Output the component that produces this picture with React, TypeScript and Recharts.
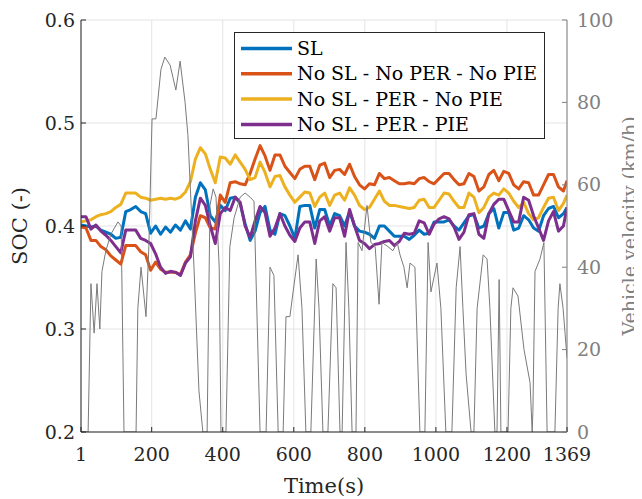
import React from 'react';
import { LineChart, Line, XAxis, YAxis, CartesianGrid, Label } from 'recharts';

// ---- data ----
const time = [
  1, 15, 29, 43, 57, 71, 85, 99, 113, 127, 141, 155, 169, 183, 197, 211, 225, 239, 253, 267,
  281, 295, 309, 323, 337, 351, 365, 379, 393, 407, 421, 435, 449, 463, 477, 491, 505, 519, 533, 547,
  561, 575, 589, 603, 617, 631, 645, 659, 673, 687, 701, 715, 729, 743, 757, 771, 785, 799, 813, 827,
  841, 855, 869, 883, 897, 911, 925, 939, 953, 967, 981, 995, 1009, 1023, 1037, 1051, 1065, 1079, 1093, 1107,
  1121, 1135, 1149, 1163, 1177, 1191, 1205, 1219, 1233, 1247, 1261, 1275, 1289, 1303, 1317, 1331, 1345, 1359, 1369,
];

const socSL = [
  0.401, 0.400, 0.399, 0.400, 0.396, 0.394, 0.392, 0.388, 0.389, 0.414, 0.416, 0.419, 0.414, 0.412, 0.393, 0.400, 0.392, 0.399, 0.394, 0.401,
  0.396, 0.405, 0.397, 0.428, 0.442, 0.435, 0.410, 0.404, 0.420, 0.415, 0.427, 0.428, 0.422, 0.402, 0.386, 0.395, 0.413, 0.419, 0.396, 0.392,
  0.412, 0.410, 0.400, 0.388, 0.419, 0.420, 0.420, 0.398, 0.416, 0.416, 0.400, 0.412, 0.410, 0.400, 0.414, 0.400, 0.395, 0.394, 0.392, 0.388,
  0.400, 0.400, 0.395, 0.390, 0.390, 0.390, 0.387, 0.391, 0.396, 0.392, 0.393, 0.404, 0.404, 0.404, 0.406, 0.400, 0.396, 0.403, 0.410, 0.411,
  0.398, 0.400, 0.412, 0.417, 0.398, 0.413, 0.413, 0.396, 0.398, 0.410, 0.406, 0.398, 0.395, 0.410, 0.417, 0.419, 0.408, 0.412, 0.418,
];

const socNoSLNoPERNoPIE = [
  0.399, 0.398, 0.386, 0.386, 0.380, 0.377, 0.371, 0.367, 0.363, 0.381, 0.381, 0.381, 0.375, 0.372, 0.357, 0.365, 0.358, 0.355, 0.355, 0.355,
  0.353, 0.365, 0.372, 0.393, 0.410, 0.408, 0.398, 0.397, 0.430, 0.423, 0.442, 0.443, 0.441, 0.440, 0.451, 0.465, 0.478, 0.468, 0.454, 0.469,
  0.469, 0.458, 0.452, 0.446, 0.455, 0.458, 0.458, 0.445, 0.459, 0.461, 0.447, 0.454, 0.455, 0.450, 0.460, 0.448, 0.440, 0.436, 0.441, 0.440,
  0.451, 0.446, 0.447, 0.444, 0.441, 0.441, 0.442, 0.441, 0.446, 0.447, 0.443, 0.441, 0.446, 0.451, 0.451, 0.445, 0.440, 0.441, 0.451, 0.448,
  0.434, 0.438, 0.450, 0.454, 0.444, 0.453, 0.451, 0.440, 0.436, 0.443, 0.442, 0.430, 0.430, 0.440, 0.450, 0.450, 0.438, 0.434, 0.444,
];

const socNoSLPERNoPIE = [
  0.404, 0.405, 0.406, 0.409, 0.411, 0.412, 0.414, 0.418, 0.421, 0.432, 0.432, 0.432, 0.428, 0.427, 0.425, 0.426, 0.427, 0.426, 0.427, 0.426,
  0.428, 0.433, 0.443, 0.465, 0.476, 0.470, 0.455, 0.442, 0.467, 0.466, 0.460, 0.469, 0.462, 0.455, 0.445, 0.447, 0.462, 0.452, 0.438, 0.448,
  0.449, 0.438, 0.430, 0.423, 0.428, 0.433, 0.432, 0.419, 0.428, 0.432, 0.420, 0.430, 0.432, 0.425, 0.437, 0.430, 0.420, 0.416, 0.418, 0.426,
  0.434, 0.424, 0.420, 0.420, 0.419, 0.418, 0.417, 0.418, 0.425, 0.426, 0.418, 0.418, 0.425, 0.432, 0.431, 0.424, 0.418, 0.418, 0.432, 0.428,
  0.413, 0.418, 0.428, 0.432, 0.430, 0.436, 0.432, 0.424, 0.418, 0.423, 0.412, 0.406, 0.408, 0.418, 0.427, 0.428, 0.415, 0.422, 0.430,
];

const socNoSLPERPIE = [
  0.409, 0.409, 0.397, 0.401, 0.395, 0.391, 0.386, 0.380, 0.374, 0.396, 0.396, 0.396, 0.388, 0.386, 0.383, 0.373, 0.360, 0.354, 0.356, 0.355,
  0.352, 0.364, 0.370, 0.405, 0.427, 0.420, 0.400, 0.383, 0.412, 0.418, 0.415, 0.428, 0.423, 0.400, 0.389, 0.405, 0.419, 0.413, 0.390, 0.398,
  0.412, 0.400, 0.391, 0.385, 0.398, 0.404, 0.404, 0.383, 0.405, 0.409, 0.395, 0.408, 0.408, 0.390, 0.416, 0.400, 0.386, 0.383, 0.378, 0.382,
  0.383, 0.385, 0.386, 0.381, 0.385, 0.393, 0.392, 0.393, 0.405, 0.403, 0.392, 0.402, 0.407, 0.409, 0.407, 0.399, 0.387, 0.394, 0.411, 0.412,
  0.392, 0.388, 0.412, 0.421, 0.426, 0.426, 0.415, 0.404, 0.404, 0.428, 0.425, 0.410, 0.398, 0.386, 0.405, 0.414, 0.395, 0.400, 0.418,
];

const velTime = [
  1, 21, 29, 38, 46, 54, 60, 71, 85, 105, 114, 122, 156, 161, 170, 184, 192, 201, 212, 226,
  237, 252, 260, 268, 280, 294, 302, 319, 333, 344, 356, 364, 373, 381, 390, 395, 409, 420, 432, 449,
  463, 477, 488, 505, 522, 533, 544, 556, 570, 578, 589, 598, 612, 623, 634, 648, 663, 671, 682, 696,
  710, 719, 730, 736, 747, 755, 764, 775, 781, 792, 806, 817, 829, 840, 848, 865, 879, 891, 899, 910,
  919, 927, 941, 955, 969, 978, 986, 1003, 1014, 1028, 1045, 1057, 1068, 1076, 1085, 1099, 1107, 1116, 1133, 1144,
  1152, 1166, 1172, 1178, 1183, 1203, 1211, 1217, 1231, 1248, 1265, 1271, 1273, 1279, 1293, 1304, 1313, 1335, 1344, 1349,
  1358, 1369,
];

const velocity = [
  0, 0, 36, 24, 36, 25, 39, 44, 48, 51, 50, 0, 0, 30, 40, 28, 45, 76, 76, 88,
  91, 89, 86, 83, 90, 80, 72, 40, 10, 0, 0, 55, 59, 57, 40, 0, 0, 45, 52, 57,
  58, 57, 56, 0, 0, 40, 38, 0, 0, 28, 28, 34, 43, 30, 0, 0, 42, 30, 0, 0,
  36, 35, 0, 0, 46, 30, 0, 0, 46, 44, 55, 46, 45, 31, 46, 45, 44, 46, 43, 40,
  35, 41, 40, 0, 0, 46, 34, 41, 30, 0, 0, 35, 45, 30, 14, 0, 0, 30, 43, 42,
  30, 0, 0, 37, 0, 0, 30, 35, 33, 20, 12, 0, 5, 39, 42, 46, 0, 0, 30, 36,
  30, 18,
];

const xTicks = [1, 200, 400, 600, 800, 1000, 1200, 1369];
const socTicks = [0.2, 0.3, 0.4, 0.5, 0.6];
const velTicks = [0, 20, 40, 60, 80, 100];

const seriesKeys = ['sl', 'noSlNoPerNoPie', 'noSlPerNoPie', 'noSlPerPie'];
const seriesNames = ['SL', 'No SL - No PER - No PIE', 'No SL - PER - No PIE', 'No SL - PER - PIE'];
const seriesColors = ['#0072BD', '#D95319', '#EDB120', '#7E2F8E'];
const seriesValues = [socSL, socNoSLNoPERNoPIE, socNoSLPERNoPIE, socNoSLPERPIE];

const socData = time.map((t, i) => {
  const row: Record<string, number> = { t };
  seriesKeys.forEach((k, j) => {
    row[k] = seriesValues[j][i];
  });
  return row;
});
const velData = velTime.map((t, i) => ({ t, v: velocity[i] }));

// ---- styles ----
const FONT = 'DejaVu Serif';
const AXIS = '#262626';
const GREY = '#808080';
const TICK_FS = 19;
const LEG_FS = 19;
const LABEL_FS = 21;
const VLABEL_FS = 19;
const TL = 5;

const BottomTick = (props: any) => {
  const { x, y, payload } = props;
  return (
    <g>
      <line x1={x} y1={y} x2={x} y2={y - TL} stroke={AXIS} strokeWidth={1} />
      <text x={x} y={y + 29} textAnchor="middle" fontFamily={FONT} fontSize={TICK_FS} fill={AXIS}>
        {payload.value}
      </text>
    </g>
  );
};

const TopTick = (props: any) => {
  const { x, y } = props;
  return <line x1={x} y1={y} x2={x} y2={y + TL} stroke={AXIS} strokeWidth={1} />;
};

const LeftTick = (props: any) => {
  const { x, y, payload } = props;
  return (
    <g>
      <line x1={x} y1={y} x2={x + TL} y2={y} stroke={AXIS} strokeWidth={1} />
      <text x={x - 6} y={y} dy="0.35em" textAnchor="end" fontFamily={FONT} fontSize={TICK_FS} fill={AXIS}>
        {Number(payload.value).toFixed(1)}
      </text>
    </g>
  );
};

const RightTick = (props: any) => {
  const { x, y, payload } = props;
  return (
    <g>
      <line x1={x} y1={y} x2={x - TL} y2={y} stroke={GREY} strokeWidth={1} />
      <text x={x + 10} y={y} dy="0.35em" textAnchor="start" fontFamily={FONT} fontSize={TICK_FS} fill={GREY}>
        {payload.value}
      </text>
    </g>
  );
};

const LegendBox = () => (
  <div
    style={{
      position: 'absolute',
      left: 226,
      top: 24,
      width: 309,
      height: 105,
      border: `1px solid ${AXIS}`,
      background: '#fff',
    }}
  >
    <svg width={309} height={105}>
      {seriesNames.map((name, i) => {
        const cy = 15.5 + i * 25.3;
        return (
          <g key={name}>
            <line x1={6} y1={cy} x2={57} y2={cy} stroke={seriesColors[i]} strokeWidth={3.5} />
            <text x={62} y={cy} dy="0.35em" fontFamily={FONT} fontSize={LEG_FS} fill="#000">
              {name}
            </text>
          </g>
        );
      })}
    </svg>
  </div>
);

export default function App() {
  return (
    <div style={{ position: 'relative', width: 634, height: 491 }}>
      <LineChart width={634} height={491} data={socData} margin={{ top: 12, right: 0, bottom: 0, left: 0 }}>
        <CartesianGrid xAxisId="bottom" yAxisId="left" stroke="#e4e4e4" strokeWidth={1} />
        <XAxis
          xAxisId="bottom"
          dataKey="t"
          type="number"
          domain={[1, 1369]}
          ticks={xTicks}
          interval={0}
          height={67}
          stroke={AXIS}
          tickLine={false}
          tickSize={0}
          tickMargin={0}
          tick={<BottomTick />}
          allowDataOverflow
        >
          <Label
            content={(p: any) => {
              const vb = p.viewBox || {};
              const cx = vb.x + vb.width / 2;
              return (
                <text x={cx} y={vb.y + 61} textAnchor="middle" fontFamily={FONT} fontSize={LABEL_FS} fill={AXIS}>
                  Time(s)
                </text>
              );
            }}
          />
        </XAxis>
        <XAxis
          xAxisId="top"
          orientation="top"
          dataKey="t"
          type="number"
          domain={[1, 1369]}
          ticks={xTicks}
          interval={0}
          height={0}
          stroke={AXIS}
          tickLine={false}
          tickSize={0}
          tickMargin={0}
          tick={<TopTick />}
          allowDataOverflow
        />
        <YAxis
          yAxisId="left"
          domain={[0.2, 0.6]}
          ticks={socTicks}
          interval={0}
          width={73}
          stroke={AXIS}
          tickLine={false}
          tickSize={0}
          tickMargin={0}
          tick={<LeftTick />}
          allowDataOverflow
        >
          <Label
            content={(p: any) => {
              const vb = p.viewBox || {};
              const cx = vb.x + 12;
              const cy = vb.y + vb.height / 2;
              return (
                <text
                  x={cx}
                  y={cy}
                  transform={`rotate(-90 ${cx} ${cy})`}
                  textAnchor="middle"
                  dominantBaseline="central"
                  fontFamily={FONT}
                  fontSize={LABEL_FS}
                  fill={AXIS}
                >
                  SOC (-)
                </text>
              );
            }}
          />
        </YAxis>
        <YAxis
          yAxisId="right"
          orientation="right"
          domain={[0, 100]}
          ticks={velTicks}
          interval={0}
          width={75}
          stroke={GREY}
          tickLine={false}
          tickSize={0}
          tickMargin={0}
          tick={<RightTick />}
          allowDataOverflow
        >
          <Label
            content={(p: any) => {
              const vb = p.viewBox || {};
              const cx = vb.x + 62;
              const cy = vb.y + vb.height / 2;
              return (
                <text
                  x={cx}
                  y={cy}
                  transform={`rotate(-90 ${cx} ${cy})`}
                  textAnchor="middle"
                  dominantBaseline="central"
                  fontFamily={FONT}
                  fontSize={VLABEL_FS}
                  fill={GREY}
                >
                  Vehicle velocity (km/h)
                </text>
              );
            }}
          />
        </YAxis>
        {seriesKeys.map((k, i) => (
          <Line
            key={k}
            xAxisId="bottom"
            yAxisId="left"
            type="linear"
            dataKey={k}
            stroke={seriesColors[i]}
            strokeWidth={3}
            dot={false}
            activeDot={false}
            strokeLinejoin="round"
            isAnimationActive={false}
          />
        ))}
        <Line
          xAxisId="bottom"
          yAxisId="right"
          type="linear"
          data={velData}
          dataKey="v"
          stroke="#7a7a7a"
          strokeWidth={1}
          dot={false}
          activeDot={false}
          isAnimationActive={false}
        />
      </LineChart>
      <LegendBox />
    </div>
  );
}
